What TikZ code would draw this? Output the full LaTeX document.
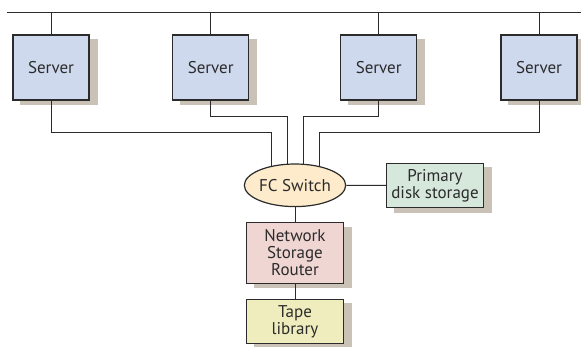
\documentclass[tikz,border=0pt]{standalone}
\usepackage{fontspec}
\setmainfont{PT Sans}
\usetikzlibrary{backgrounds,shapes.geometric}

\definecolor{serverblue}{HTML}{CED9EE}
\definecolor{switchtan}{HTML}{FDEBCB}
\definecolor{diskgreen}{HTML}{D5E8DB}
\definecolor{routerpink}{HTML}{F0D6D3}
\definecolor{tapeyellow}{HTML}{EFEDBD}
\definecolor{shadowtan}{HTML}{CAC2B6}
\definecolor{ink}{HTML}{2B2B2B}

\tikzset{
  unit/.style={draw=ink,line width=1.2pt,inner sep=0pt,align=center,
    text=ink,font=\fontsize{17}{17}\selectfont},
  server/.style={unit,fill=serverblue,minimum width=76pt,minimum height=65pt},
  store/.style={unit,minimum width=96.7pt,minimum height=44pt},
  wire/.style={ink,line width=0.9pt},
}

\begin{document}
\begin{tikzpicture}[x=1pt,y=-1pt]
          \useasboundingbox (0,0) rectangle (581,346);
          \coordinate (busW) at (7,12);
          \coordinate (busE) at (581,12);
          \node[server] (server1) at (51,67.5) {Server};
          \node[server] (server2) at (210.7,67.5) {Server};
          \node[server] (server3) at (378.7,67.5) {Server};
          \node[server] (server4) at (539,67.5) {Server};
          \node[unit,ellipse,fill=switchtan,minimum width=97pt,minimum height=42.6pt] (switch) at (295,185.3) {FC Switch};
          \node[store,fill=diskgreen] (disk) at (435,185.5) {Primary\\disk storage};
          \node[store,fill=routerpink,minimum height=60.7pt] (router) at (295,253) {Network\\Storage\\Router};
          \node[store,fill=tapeyellow] (tape) at (295,321.3) {Tape\\library};
          \begin{scope}[on background layer]
            \foreach \n in {server1,server2,server3,server4,disk,router,tape}
              \fill[shadowtan] ([xshift=8pt,yshift=-4.5pt]\n.south west) rectangle ([xshift=8pt,yshift=-4.5pt]\n.north east);
            \draw[wire] (busW) -- (busE);
            \foreach \s in {1,...,4}
              \draw[wire] (server\s.north) -- (server\s.north |- busW);
            \draw[wire] (server1.south) -- ++(0,32) -| ([xshift=-24pt]switch.center);
            \draw[wire] (server2.south) -- ++(0,16) -| ([xshift=-8pt]switch.center);
            \draw[wire] (server3.south) -- ++(0,16) -| ([xshift=8pt]switch.center);
            \draw[wire] (server4.south) -- ++(0,32) -| ([xshift=24pt]switch.center);
            \draw[wire] (switch) -- (disk);
            \draw[wire] (switch) -- (router);
            \draw[wire] (router) -- (tape);
          \end{scope}
        \end{tikzpicture}
\end{document}
